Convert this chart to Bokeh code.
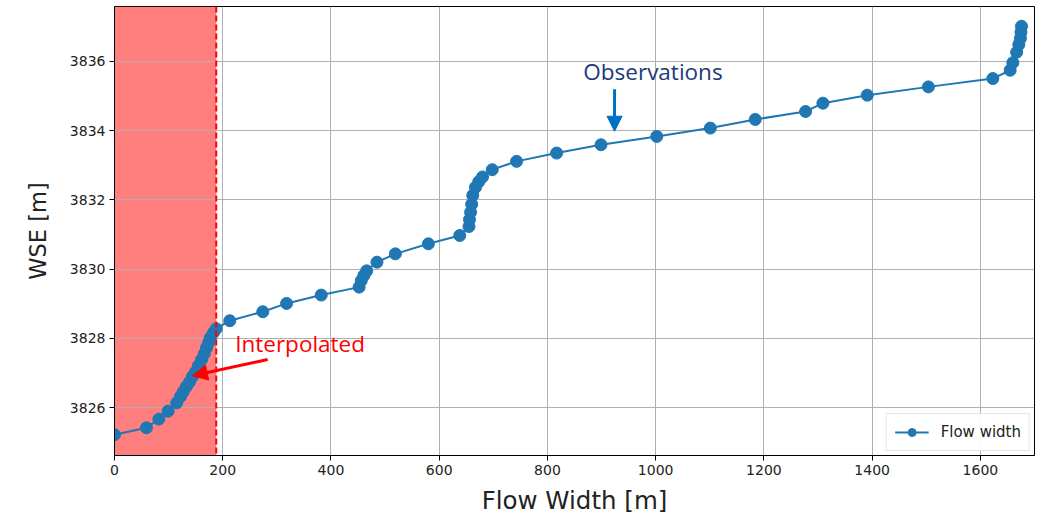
from bokeh.plotting import figure
from bokeh.models import Range1d, BoxAnnotation, Span, Label, Arrow, NormalHead, FixedTicker, Legend, LegendItem
from bokeh.embed import file_html
from bokeh.resources import INLINE

# Flow width [m] versus water surface elevation [m]
flow_width = [0, 59, 82, 99, 115, 122, 127, 133, 139, 144, 150, 155, 161, 166, 170, 174, 177, 183, 188,
              213, 274, 318, 382, 452, 456, 461, 466, 485, 519, 580, 638,
              655, 656, 658, 660, 662, 667, 673, 680, 698, 743, 817, 899, 1002, 1101, 1184,
              1277, 1309, 1391, 1504, 1623, 1655, 1660, 1667, 1671, 1674, 1675, 1676]
wse = [3825.22, 3825.42, 3825.67, 3825.90, 3826.14, 3826.32, 3826.46, 3826.61, 3826.75, 3826.90, 3827.04,
       3827.21, 3827.39, 3827.56, 3827.73, 3827.88, 3828.02, 3828.17, 3828.28,
       3828.51, 3828.77, 3829.01, 3829.25, 3829.48, 3829.67, 3829.82, 3829.95, 3830.20, 3830.44, 3830.73, 3830.97,
       3831.23, 3831.43, 3831.64, 3831.87, 3832.13, 3832.36, 3832.52, 3832.66, 3832.87, 3833.11, 3833.35, 3833.59,
       3833.83, 3834.07, 3834.32, 3834.55, 3834.79, 3835.02, 3835.26, 3835.50, 3835.74, 3835.96, 3836.26,
       3836.48, 3836.66, 3836.84, 3837.01]

# widths below this limit are interpolated, not observed
interp_limit = 188

x_ticks = [0, 200, 400, 600, 800, 1000, 1200, 1400, 1600]
y_ticks = [3826, 3828, 3830, 3832, 3834, 3836]

p = figure(width=1044, height=517, output_backend="svg", toolbar_location=None,
           x_range=Range1d(0, 1700), y_range=Range1d(3824.62, 3837.58),
           min_border_left=114, min_border_right=10, min_border_top=6, min_border_bottom=62)
p.background_fill_color = "white"
p.border_fill_color = "white"
p.outline_line_color = "black"
p.outline_line_width = 1

# interpolated zone
p.add_layout(BoxAnnotation(left=0, right=interp_limit, fill_color="red", fill_alpha=0.5,
                           line_color=None, level="image"))
p.add_layout(Span(location=interp_limit, dimension="height", line_color="red",
                  line_width=2, line_dash="6 3", level="glyph"))

line_r = p.line(flow_width, wse, line_color="#1f77b4", line_width=2)
pts_r = p.scatter(flow_width, wse, size=12, fill_color="#1f77b4", line_color="#1f77b4")

legend = Legend(items=[LegendItem(label="Flow width", renderers=[line_r, pts_r])],
                location="bottom_right", label_text_font="DejaVu Sans",
                label_text_font_size="15px", label_text_color="#222222",
                border_line_color="#cccccc", border_line_width=1,
                background_fill_alpha=0.9, glyph_width=34, glyph_height=20,
                padding=8, margin=4, spacing=0, label_standoff=12)
p.add_layout(legend)

for ax, ticks in ((p.xaxis, x_ticks), (p.yaxis, y_ticks)):
    ax.ticker = FixedTicker(ticks=ticks)
    ax.minor_tick_line_color = None
    ax.major_tick_in = 0
    ax.major_tick_out = 5
    ax.major_tick_line_color = "black"
    ax.axis_line_color = "black"
    ax.major_label_text_font = "DejaVu Sans"
    ax.major_label_text_font_size = "14px"
    ax.major_label_text_color = "#222222"
    ax.major_label_standoff = 4
    ax.axis_label_text_font = "DejaVu Sans"
    ax.axis_label_text_font_style = "normal"
    ax.axis_label_text_color = "#222222"

p.xaxis.axis_label = "Flow Width [m]"
p.yaxis.axis_label = "WSE [m]"
p.xaxis.axis_label_text_font_size = "24.5px"
p.yaxis.axis_label_text_font_size = "22.5px"
p.xaxis.axis_label_standoff = 8
p.yaxis.axis_label_standoff = 16
p.yaxis.major_label_orientation = "horizontal"

p.xgrid.grid_line_color = "#b0b0b0"
p.ygrid.grid_line_color = "#b0b0b0"
p.xgrid.grid_line_width = 1
p.ygrid.grid_line_width = 1

# callouts
p.add_layout(Label(x=995, y=3835.69, text="Observations", text_align="center",
                   text_baseline="alphabetic", text_font="Open Sans", text_font_size="22.5px",
                   text_color="#1b3a7a"))
p.add_layout(Arrow(x_start=924, y_start=3835.19, x_end=924, y_end=3833.98,
                   line_color="#0070c0", line_width=3,
                   end=NormalHead(size=15, fill_color="#0070c0", line_color="#0070c0")))
p.add_layout(Label(x=223, y=3827.86, text="Interpolated", text_align="left",
                   text_baseline="alphabetic", text_font="Open Sans", text_font_size="22.5px",
                   text_color="red"))
p.add_layout(Arrow(x_start=283, y_start=3827.39, x_end=144, y_end=3826.92,
                   line_color="red", line_width=3,
                   end=NormalHead(size=15, fill_color="red", line_color="red")))

open("out.html", "w").write(file_html(p, INLINE))
